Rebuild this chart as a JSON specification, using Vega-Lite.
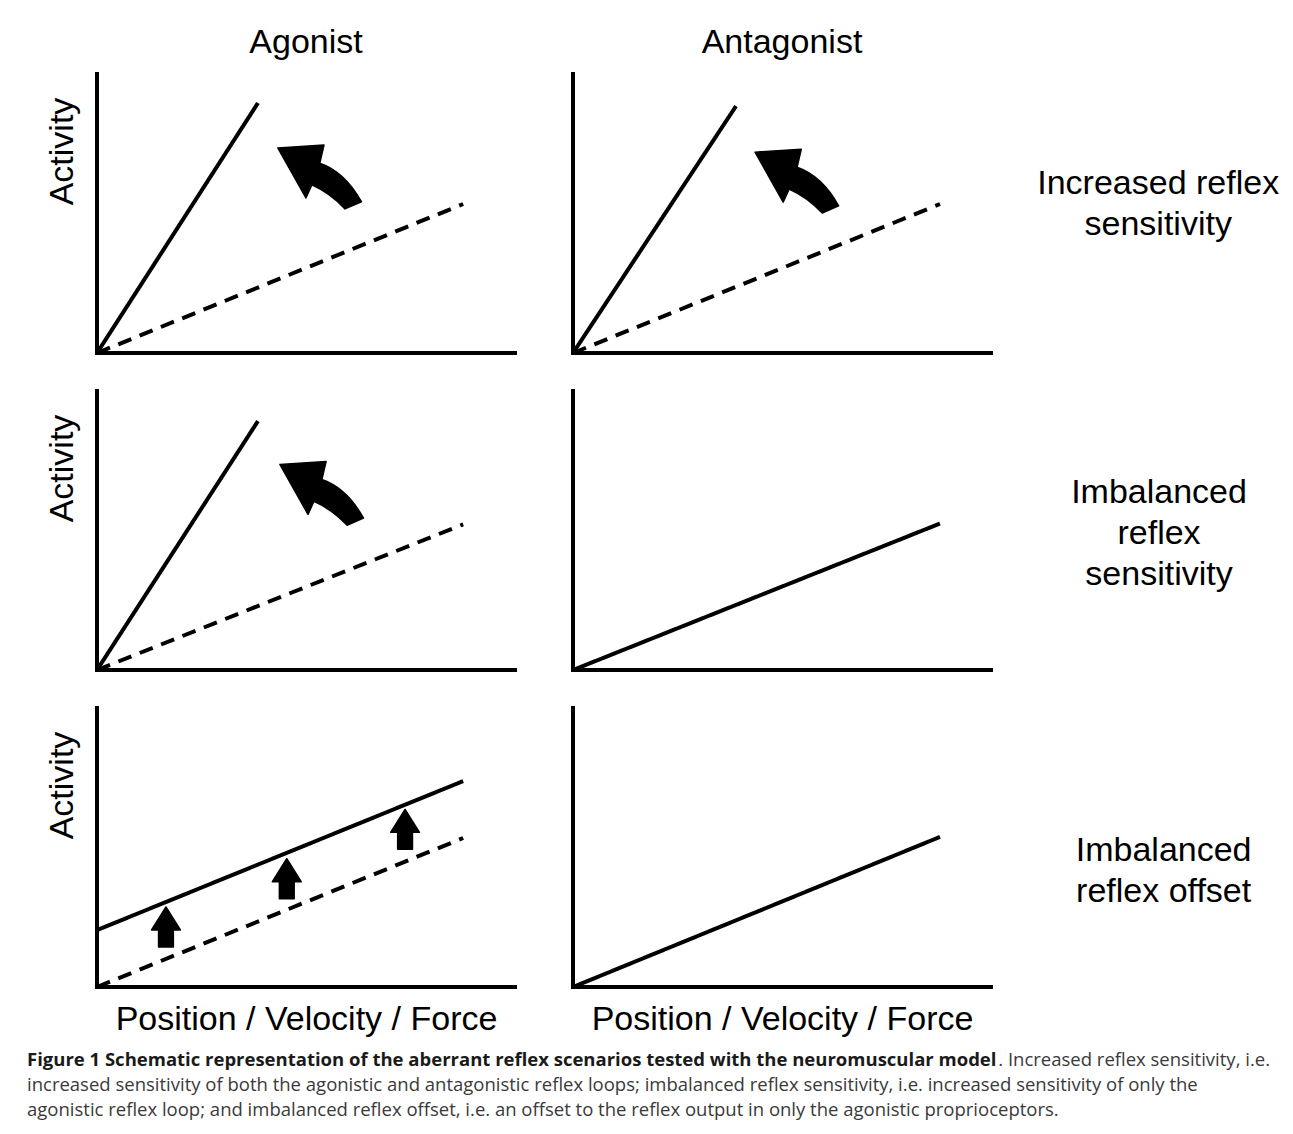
{
  "$schema": "https://vega.github.io/schema/vega-lite/v6.json",
  "padding": {"left": 27, "top": 26, "right": 5, "bottom": 5},
  "background": "white",
  "config": {
    "view": {"stroke": null},
    "axis": {
      "domain": false, "ticks": false, "labels": false, "grid": false,
      "titleFont": "Liberation Sans", "titleFontSize": 34, "titleFontWeight": "normal", "titleColor": "black"
    },
    "axisX": {"titlePadding": 15},
    "axisY": {"titleX": -35, "titleY": 77, "titleAlign": "center", "titleBaseline": "middle", "titleAngle": 270}
  },
  "datasets": {
    "schematic": [
      {"kind": "line", "scenario": "Increased reflex sensitivity", "muscle": "Agonist", "series": "solid", "x": 0, "y": 0},
      {"kind": "line", "scenario": "Increased reflex sensitivity", "muscle": "Agonist", "series": "solid", "x": 38.5, "y": 89.6},
      {"kind": "line", "scenario": "Increased reflex sensitivity", "muscle": "Agonist", "series": "dashed", "x": 0, "y": 0},
      {"kind": "line", "scenario": "Increased reflex sensitivity", "muscle": "Agonist", "series": "dashed", "x": 87.6, "y": 53.4},
      {"kind": "line", "scenario": "Increased reflex sensitivity", "muscle": "Antagonist", "series": "solid", "x": 0, "y": 0},
      {"kind": "line", "scenario": "Increased reflex sensitivity", "muscle": "Antagonist", "series": "solid", "x": 39.0, "y": 88.5},
      {"kind": "line", "scenario": "Increased reflex sensitivity", "muscle": "Antagonist", "series": "dashed", "x": 0, "y": 0},
      {"kind": "line", "scenario": "Increased reflex sensitivity", "muscle": "Antagonist", "series": "dashed", "x": 87.8, "y": 53.4},
      {"kind": "line", "scenario": "Imbalanced reflex sensitivity", "muscle": "Agonist", "series": "solid", "x": 0, "y": 0},
      {"kind": "line", "scenario": "Imbalanced reflex sensitivity", "muscle": "Agonist", "series": "solid", "x": 38.5, "y": 89.2},
      {"kind": "line", "scenario": "Imbalanced reflex sensitivity", "muscle": "Agonist", "series": "dashed", "x": 0, "y": 0},
      {"kind": "line", "scenario": "Imbalanced reflex sensitivity", "muscle": "Agonist", "series": "dashed", "x": 87.6, "y": 52.2},
      {"kind": "line", "scenario": "Imbalanced reflex sensitivity", "muscle": "Antagonist", "series": "solid", "x": 0, "y": 0},
      {"kind": "line", "scenario": "Imbalanced reflex sensitivity", "muscle": "Antagonist", "series": "solid", "x": 87.8, "y": 52.5},
      {"kind": "line", "scenario": "Imbalanced reflex offset", "muscle": "Agonist", "series": "solid", "x": 0, "y": 20.4},
      {"kind": "line", "scenario": "Imbalanced reflex offset", "muscle": "Agonist", "series": "solid", "x": 87.6, "y": 73.8},
      {"kind": "line", "scenario": "Imbalanced reflex offset", "muscle": "Agonist", "series": "dashed", "x": 0, "y": 0},
      {"kind": "line", "scenario": "Imbalanced reflex offset", "muscle": "Agonist", "series": "dashed", "x": 87.6, "y": 53.4},
      {"kind": "line", "scenario": "Imbalanced reflex offset", "muscle": "Antagonist", "series": "solid", "x": 0, "y": 0},
      {"kind": "line", "scenario": "Imbalanced reflex offset", "muscle": "Antagonist", "series": "solid", "x": 87.8, "y": 53.8},
      {"kind": "curved", "scenario": "Increased reflex sensitivity", "muscle": "Agonist", "x": 53.2, "y": 63.1},
      {"kind": "curved", "scenario": "Increased reflex sensitivity", "muscle": "Antagonist", "x": 53.5, "y": 61.6},
      {"kind": "curved", "scenario": "Imbalanced reflex sensitivity", "muscle": "Agonist", "x": 53.7, "y": 63.3},
      {"kind": "up", "scenario": "Imbalanced reflex offset", "muscle": "Agonist", "x": 16.5, "y": 21.5},
      {"kind": "up", "scenario": "Imbalanced reflex offset", "muscle": "Agonist", "x": 45.4, "y": 38.8},
      {"kind": "up", "scenario": "Imbalanced reflex offset", "muscle": "Agonist", "x": 73.7, "y": 56.5},
      {"kind": "label", "scenario": "Increased reflex sensitivity", "muscle": "Antagonist", "label": "Increased reflex|sensitivity", "x": 140.0, "y": 60.6},
      {"kind": "label", "scenario": "Imbalanced reflex sensitivity", "muscle": "Antagonist", "label": "Imbalanced|reflex|sensitivity", "x": 140.2, "y": 63.4},
      {"kind": "label", "scenario": "Imbalanced reflex offset", "muscle": "Antagonist", "label": "Imbalanced|reflex offset", "x": 141.3, "y": 48.7}
    ],
    "caption": [
      {"line": 1, "part": "bold", "text": "Figure 1 Schematic representation of the aberrant reflex scenarios tested with the neuromuscular model"},
      {"line": 1, "part": "tail", "text": ". Increased reflex sensitivity, i.e."},
      {"line": 2, "part": "body", "text": "increased sensitivity of both the agonistic and antagonistic reflex loops; imbalanced reflex sensitivity, i.e. increased sensitivity of only the"},
      {"line": 3, "part": "body", "text": "agonistic reflex loop; and imbalanced reflex offset, i.e. an offset to the reflex output in only the agonistic proprioceptors."}
    ]
  },
  "bounds": "flush",
  "spacing": 973,
  "vconcat": [
    {
      "data": {"name": "schematic"},
      "spacing": {"row": 38, "column": 58},
      "bounds": "flush",
      "facet": {
        "row": {
          "field": "scenario", "type": "nominal", "title": null,
          "sort": ["Increased reflex sensitivity", "Imbalanced reflex sensitivity", "Imbalanced reflex offset"],
          "header": {"labels": false}
        },
        "column": {
          "field": "muscle", "type": "nominal", "title": null,
          "sort": ["Agonist", "Antagonist"],
          "header": {"labelFont": "Liberation Sans", "labelFontSize": 34, "labelColor": "black", "labelPadding": 14}
        }
      },
      "spec": {
        "width": 418,
        "height": 279,
        "layer": [
          {
            "transform": [{"filter": "datum.kind === 'line' && datum.series === 'solid' && datum.x === 0"}],
            "mark": {"type": "rule", "strokeWidth": 4, "color": "black", "strokeCap": "square"},
            "encoding": {"x": {"datum": 0, "type": "quantitative", "scale": {"domain": [0, 100]}, "title": "Position / Velocity / Force"}}
          },
          {
            "transform": [{"filter": "datum.kind === 'line' && datum.series === 'solid' && datum.x === 0"}],
            "mark": {"type": "rule", "strokeWidth": 4, "color": "black", "strokeCap": "square"},
            "encoding": {"y": {"datum": 0, "type": "quantitative", "scale": {"domain": [0, 100]}, "title": "Activity"}}
          },
          {
            "transform": [{"filter": "datum.kind === 'line'"}],
            "mark": {"type": "line", "strokeWidth": 4, "color": "black"},
            "encoding": {
              "x": {"field": "x", "type": "quantitative", "scale": {"domain": [0, 100]}, "title": "Position / Velocity / Force"},
              "y": {"field": "y", "type": "quantitative", "scale": {"domain": [0, 100]}, "title": "Activity"},
              "strokeDash": {
                "field": "series", "type": "nominal",
                "scale": {"domain": ["solid", "dashed"], "range": [[1, 0], [14, 9]]},
                "legend": null
              },
              "order": {"field": "x", "type": "quantitative"}
            }
          },
          {
            "transform": [{"filter": "datum.kind === 'curved'"}],
            "mark": {
              "type": "point", "filled": true, "opacity": 1, "color": "black", "stroke": "black",
              "strokeWidth": 1.5, "strokeJoin": "round", "size": 7056,
              "shape": "M-0.99,-0.69L0.11,-0.76L0.01,-0.33Q0.61,-0.12 1,0.59L0.61,0.76Q0.25,0.38 -0.18,0.19L-0.32,0.5Z"
            },
            "encoding": {
              "x": {"field": "x", "type": "quantitative", "scale": {"domain": [0, 100]}, "title": "Position / Velocity / Force"},
              "y": {"field": "y", "type": "quantitative", "scale": {"domain": [0, 100]}, "title": "Activity"}
            }
          },
          {
            "transform": [{"filter": "datum.kind === 'up'"}],
            "mark": {
              "type": "point", "filled": true, "opacity": 1, "color": "black", "stroke": "black",
              "strokeWidth": 1.5, "strokeJoin": "round", "size": 1600,
              "shape": "M0,-1L0.72,0.15L0.37,0.15L0.37,1L-0.37,1L-0.37,0.15L-0.72,0.15Z"
            },
            "encoding": {
              "x": {"field": "x", "type": "quantitative", "scale": {"domain": [0, 100]}, "title": "Position / Velocity / Force"},
              "y": {"field": "y", "type": "quantitative", "scale": {"domain": [0, 100]}, "title": "Activity"}
            }
          },
          {
            "transform": [{"filter": "datum.kind === 'label'"}],
            "mark": {
              "type": "text", "align": "center", "baseline": "middle", "lineBreak": "|", "lineHeight": 41,
              "font": "Liberation Sans", "fontSize": 34, "color": "black"
            },
            "encoding": {
              "x": {"field": "x", "type": "quantitative", "scale": {"domain": [0, 100]}, "title": "Position / Velocity / Force"},
              "y": {"field": "y", "type": "quantitative", "scale": {"domain": [0, 100]}, "title": "Activity"},
              "text": {"field": "label"}
            }
          }
        ]
      }
    },
    {
      "data": {"name": "caption"},
      "width": 1243,
      "height": 75,
      "encoding": {"y": {"field": "line", "type": "ordinal", "axis": null}},
      "layer": [
        {
          "transform": [{"filter": "datum.part === 'bold'"}],
          "mark": {"type": "text", "align": "left", "baseline": "middle", "font": "Open Sans", "fontSize": 18.5, "fontWeight": "bold", "color": "#1a1a1a", "dx": -70},
          "encoding": {
            "x": {"datum": 0, "type": "quantitative", "scale": {"domain": [0, 1]}, "axis": null},
            "text": {"field": "text"}
          }
        },
        {
          "transform": [{"filter": "datum.part === 'tail'"}],
          "mark": {"type": "text", "align": "right", "baseline": "middle", "font": "Open Sans", "fontSize": 18.5, "color": "#3a3a3a", "dx": -70},
          "encoding": {
            "x": {"datum": 1, "type": "quantitative", "axis": null},
            "text": {"field": "text"}
          }
        },
        {
          "transform": [{"filter": "datum.part === 'body'"}],
          "mark": {"type": "text", "align": "left", "baseline": "middle", "font": "Open Sans", "fontSize": 18.5, "color": "#3a3a3a", "dx": -70},
          "encoding": {
            "x": {"datum": 0, "type": "quantitative", "axis": null},
            "text": {"field": "text"}
          }
        }
      ]
    }
  ]
}
